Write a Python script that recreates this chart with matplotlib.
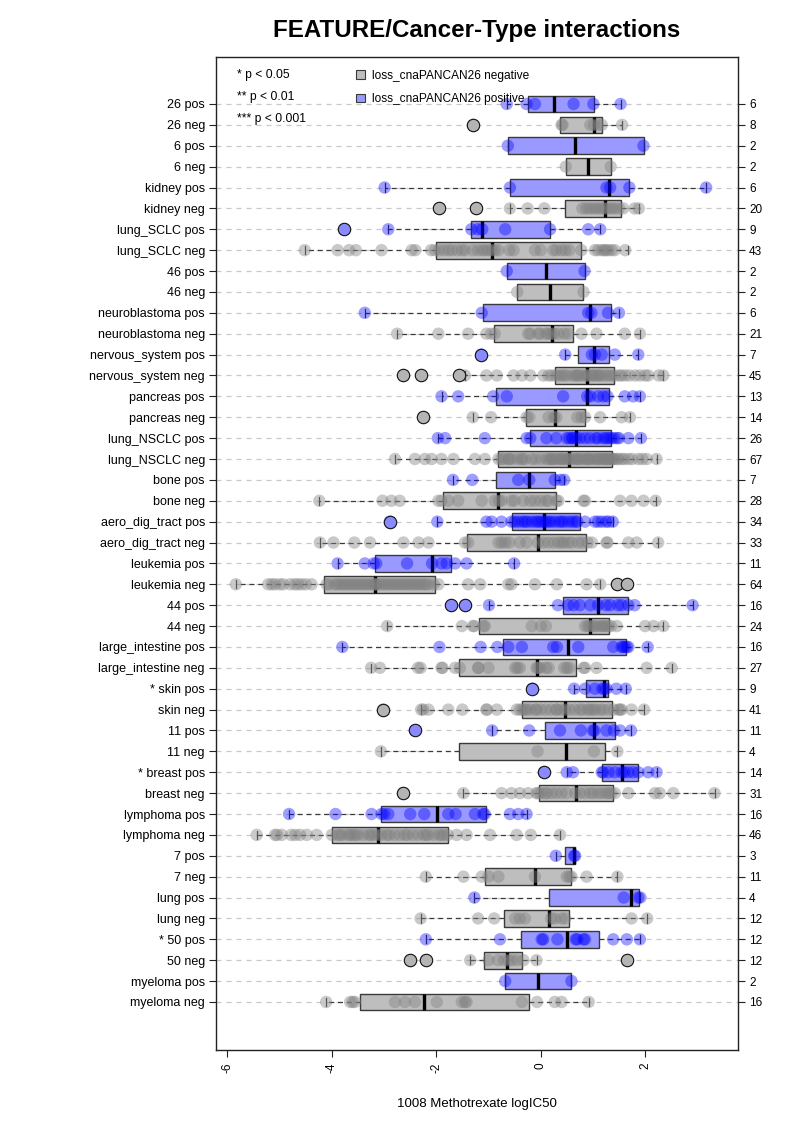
import numpy as np
import matplotlib
matplotlib.use('Agg')
import matplotlib.pyplot as plt
from matplotlib.patches import Patch

plt.rcParams['font.family'] = ['Liberation Sans', 'DejaVu Sans']

# rows, top to bottom
labels = ['26 pos', '26 neg', '6 pos', '6 neg', 'kidney pos', 'kidney neg',
          'lung_SCLC pos', 'lung_SCLC neg', '46 pos', '46 neg',
          'neuroblastoma pos', 'neuroblastoma neg', 'nervous_system pos',
          'nervous_system neg', 'pancreas pos', 'pancreas neg',
          'lung_NSCLC pos', 'lung_NSCLC neg', 'bone pos', 'bone neg',
          'aero_dig_tract pos', 'aero_dig_tract neg', 'leukemia pos',
          'leukemia neg', '44 pos', '44 neg', 'large_intestine pos',
          'large_intestine neg', '* skin pos', 'skin neg', '11 pos', '11 neg',
          '* breast pos', 'breast neg', 'lymphoma pos', 'lymphoma neg',
          '7 pos', '7 neg', 'lung pos', 'lung neg', '* 50 pos', '50 neg',
          'myeloma pos', 'myeloma neg']
counts = [6, 8, 2, 2, 6, 20, 9, 43, 2, 2, 6, 21, 7, 45, 13, 14, 26, 67, 7, 28,
          34, 33, 11, 64, 16, 24, 16, 27, 9, 41, 11, 4, 14, 31, 16, 46, 3, 11,
          4, 12, 12, 12, 2, 16]

# box statistics
q1 = [-0.24, 0.37, -0.63, 0.48, -0.59, 0.47, -1.34, -2.01, -0.65, -0.45,
      -1.11, -0.90, 0.72, 0.27, -0.86, -0.29, -0.20, -0.82, -0.86, -1.87,
      -0.54, -1.42, -3.18, -4.16, 0.43, -1.18, -0.72, -1.57, 0.87, -0.36,
      0.08, -1.56, 1.17, -0.03, -3.05, -4.00, 0.47, -1.07, 0.16, -0.70,
      -0.38, -1.09, -0.68, -3.46]
med = [0.26, 1.02, 0.66, 0.90, 1.31, 1.24, -1.12, -0.93, 0.10, 0.18,
       0.94, 0.21, 1.02, 0.88, 0.89, 0.27, 0.68, 0.54, -0.22, -0.82,
       0.06, -0.05, -2.08, -3.17, 1.10, 0.94, 0.53, -0.08, 1.22, 0.47,
       1.03, 0.48, 1.55, 0.68, -1.99, -3.12, 0.64, -0.11, 1.73, 0.15,
       0.50, -0.65, -0.05, -2.24]
q3 = [1.03, 1.17, 1.97, 1.34, 1.70, 1.53, 0.18, 0.77, 0.84, 0.82,
      1.34, 0.61, 1.30, 1.40, 1.31, 0.84, 1.35, 1.36, 0.27, 0.29,
      0.75, 0.86, -1.72, -2.02, 1.68, 1.31, 1.63, 0.67, 1.28, 1.36,
      1.42, 1.24, 1.87, 1.39, -1.05, -1.77, 0.65, 0.58, 1.89, 0.55,
      1.12, -0.36, 0.59, -0.22]
wlo = [-0.65, 0.37, -0.63, 0.48, -2.99, -0.59, -2.92, -4.52, -0.65, -0.45,
       -3.37, -2.75, 0.47, -1.45, -1.90, -1.30, -1.97, -2.79, -1.68, -4.24,
       -1.98, -4.23, -3.89, -5.84, -0.99, -2.94, -3.80, -3.25, 0.64, -2.29,
       -0.93, -3.06, 0.50, -1.48, -4.82, -5.44, 0.29, -2.20, -1.27, -2.30,
       -2.20, -1.35, -0.68, -4.11]
whi = [1.53, 1.56, 1.97, 1.34, 3.17, 1.88, 1.14, 1.68, 0.84, 0.82,
       1.50, 1.90, 1.87, 2.35, 1.90, 1.71, 1.92, 2.22, 0.45, 2.20,
       1.38, 2.25, -0.51, 1.14, 2.91, 2.35, 2.05, 2.51, 1.63, 1.98,
       1.73, 1.47, 2.22, 3.33, -0.27, 0.37, 0.66, 1.47, 1.91, 2.04,
       1.90, -0.08, 0.59, 0.92]

# individual cell lines per row
points = [
    [-0.65, -0.27, -0.11, 0.63, 1.01, 1.53],
    [-1.30, 0.40, 0.42, 0.95, 1.02, 1.10, 1.17, 1.56],
    [-0.63, 1.97],
    [0.48, 1.34],
    [-2.99, -0.59, 1.26, 1.33, 1.70, 3.17],
    [-1.95, -1.23, -0.59, -0.25, 0.07, 0.80, 0.87, 0.93, 1.00, 1.06, 1.12,
     1.18, 1.24, 1.30, 1.36, 1.42, 1.50, 1.58, 1.80, 1.88],
    [-3.76, -2.92, -1.33, -1.20, -1.12, -0.68, 0.18, 0.91, 1.14],
    [-4.52, -3.89, -3.67, -3.54, -3.05, -2.47, -2.40, -2.10, -2.03, -1.95,
     -1.85, -1.77, -1.70, -1.60, -1.51, -1.45, -1.30, -1.20, -1.12, -1.07,
     -1.00, -0.94, -0.88, -0.81, -0.60, -0.52, -0.11, 0.00, 0.24, 0.30,
     0.40, 0.47, 0.55, 0.78, 1.04, 1.10, 1.17, 1.22, 1.25, 1.30, 1.36,
     1.42, 1.62],
    [-0.65, 0.84],
    [-0.45, 0.82],
    [-3.37, -1.13, 0.91, 0.97, 1.29, 1.50],
    [-2.75, -1.96, -1.39, -1.04, -0.95, -0.88, -0.24, -0.20, -0.05, -0.01,
     0.10, 0.15, 0.20, 0.25, 0.34, 0.45, 0.53, 0.78, 1.07, 1.61, 1.90],
    [-1.14, 0.47, 0.98, 1.04, 1.17, 1.42, 1.87],
    [-2.63, -2.29, -1.56, -1.45, -1.04, -0.84, -0.52, -0.36, -0.20, 0.05,
     0.15, 0.21, 0.28, 0.34, 0.40, 0.45, 0.50, 0.60, 0.66, 0.70, 0.72,
     0.78, 0.85, 0.88, 0.92, 0.98, 1.00, 1.05, 1.10, 1.12, 1.17, 1.24,
     1.30, 1.36, 1.42, 1.50, 1.55, 1.62, 1.70, 1.81, 1.90, 2.00, 2.06,
     2.26, 2.35],
    [-1.90, -1.58, -0.91, -0.65, 0.43, 0.89, 0.95, 1.10, 1.20, 1.28, 1.61,
     1.77, 1.90],
    [-2.25, -1.30, -0.95, -0.27, -0.22, 0.15, 0.25, 0.30, 0.70, 0.78, 0.85,
     1.14, 1.55, 1.71],
    [-1.97, -1.83, -1.07, -0.27, -0.20, 0.11, 0.30, 0.50, 0.55, 0.60, 0.62,
     0.68, 0.75, 0.85, 0.94, 1.05, 1.10, 1.20, 1.25, 1.30, 1.35, 1.40,
     1.46, 1.50, 1.68, 1.92],
    [-2.79, -2.41, -2.22, -2.09, -1.90, -1.67, -1.26, -1.07, -0.81, -0.75,
     -0.70, -0.62, -0.60, -0.55, -0.45, -0.37, -0.35, -0.30, -0.17, -0.10,
     0.00, 0.10, 0.15, 0.20, 0.21, 0.25, 0.30, 0.35, 0.40, 0.40, 0.45,
     0.50, 0.53, 0.55, 0.60, 0.65, 0.70, 0.72, 0.75, 0.80, 0.85, 0.90,
     0.91, 0.95, 1.00, 1.05, 1.10, 1.10, 1.15, 1.20, 1.22, 1.25, 1.30,
     1.30, 1.35, 1.38, 1.40, 1.45, 1.49, 1.55, 1.60, 1.68, 1.75, 1.87,
     1.95, 2.03, 2.22],
    [-1.68, -1.31, -0.43, -0.22, 0.27, 0.38, 0.45],
    [-4.24, -3.03, -2.86, -2.70, -1.96, -1.90, -1.77, -1.58, -1.13, -0.88,
     -0.80, -0.75, -0.56, -0.50, -0.33, -0.20, -0.11, 0.00, 0.10, 0.15,
     0.30, 0.34, 0.82, 0.85, 1.52, 1.74, 1.97, 2.20],
    [-2.89, -1.98, -1.04, -0.94, -0.75, -0.56, -0.50, -0.43, -0.35, -0.30,
     -0.25, -0.17, -0.10, -0.05, 0.00, 0.05, 0.10, 0.15, 0.20, 0.27, 0.35,
     0.40, 0.45, 0.53, 0.60, 0.66, 0.70, 0.85, 1.04, 1.10, 1.17, 1.25,
     1.30, 1.38],
    [-4.23, -3.97, -3.57, -3.27, -2.63, -2.34, -2.15, -1.45, -1.39, -0.81,
     -0.75, -0.68, -0.60, -0.40, -0.27, -0.05, 0.05, 0.15, 0.25, 0.34,
     0.40, 0.45, 0.53, 0.60, 0.72, 0.80, 0.90, 0.98, 1.26, 1.28, 1.68,
     1.84, 2.25],
    [-3.89, -3.37, -3.20, -3.15, -2.56, -2.08, -1.90, -1.80, -1.64, -1.42,
     -0.51],
    [-5.84, -5.22, -5.15, -5.09, -5.00, -4.93, -4.80, -4.71, -4.65, -4.58,
     -4.50, -4.39, -4.10, -4.05, -3.95, -3.90, -3.85, -3.80, -3.75, -3.70,
     -3.65, -3.60, -3.55, -3.50, -3.45, -3.40, -3.35, -3.30, -3.25, -3.20,
     -3.17, -3.15, -3.10, -3.05, -3.00, -2.95, -2.90, -2.85, -2.80, -2.75,
     -2.70, -2.65, -2.60, -2.55, -2.50, -2.45, -2.40, -2.35, -2.30, -2.25,
     -2.20, -2.15, -2.05, -1.96, -1.39, -1.16, -0.62, -0.56, -0.11, 0.31,
     0.88, 1.14, 1.46, 1.65],
    [-1.71, -1.45, -0.99, 0.33, 0.53, 0.63, 0.75, 0.95, 1.10, 1.25, 1.33,
     1.48, 1.55, 1.68, 1.80, 2.91],
    [-2.94, -1.51, -1.30, -1.27, -1.10, -1.07, -0.17, 0.00, 0.10, 0.85,
     0.90, 0.94, 1.00, 1.04, 1.10, 1.17, 1.20, 1.25, 1.30, 1.35, 1.46,
     2.00, 2.16, 2.35],
    [-3.80, -1.94, -1.15, -0.83, -0.62, -0.36, 0.24, 0.31, 0.72, 1.39,
     1.55, 1.58, 1.61, 1.65, 1.68, 2.05],
    [-3.25, -3.08, -2.35, -2.30, -1.90, -1.88, -1.64, -1.55, -1.20, -1.19,
     -1.00, -0.49, -0.45, -0.40, -0.08, -0.05, -0.01, 0.10, 0.15, 0.45,
     0.50, 0.55, 0.82, 0.85, 1.07, 2.03, 2.51],
    [-0.16, 0.64, 0.85, 1.04, 1.18, 1.22, 1.26, 1.45, 1.63],
    [-3.02, -2.29, -2.25, -2.15, -1.77, -1.50, -1.04, -1.03, -0.84, -0.46,
     -0.40, -0.35, -0.30, -0.27, -0.20, -0.10, -0.08, 0.00, 0.10, 0.20,
     0.30, 0.31, 0.40, 0.47, 0.55, 0.65, 0.75, 0.80, 0.90, 0.94, 1.00,
     1.05, 1.14, 1.20, 1.30, 1.40, 1.49, 1.52, 1.55, 1.74, 1.98],
    [-2.41, -0.93, -0.22, 0.37, 0.77, 1.00, 1.03, 1.26, 1.40, 1.52, 1.73],
    [-3.06, -0.06, 1.02, 1.47],
    [0.07, 0.50, 0.62, 1.17, 1.20, 1.30, 1.42, 1.55, 1.60, 1.68, 1.77,
     1.87, 2.06, 2.22],
    [-2.63, -1.48, -0.75, -0.56, -0.40, -0.24, -0.08, -0.05, 0.00, 0.08,
     0.12, 0.21, 0.30, 0.40, 0.50, 0.66, 0.75, 0.85, 0.95, 1.01, 1.10,
     1.17, 1.25, 1.30, 1.35, 1.42, 1.68, 2.19, 2.28, 2.54, 3.33],
    [-4.82, -3.93, -3.24, -3.05, -3.00, -2.92, -2.50, -2.23, -1.77, -1.63,
     -1.26, -1.10, -1.07, -0.59, -0.43, -0.27],
    [-5.44, -5.09, -5.05, -4.96, -4.78, -4.70, -4.61, -4.48, -4.29, -4.00,
     -3.90, -3.85, -3.80, -3.70, -3.65, -3.60, -3.55, -3.50, -3.40, -3.30,
     -3.25, -3.20, -3.12, -3.05, -2.95, -2.90, -2.80, -2.70, -2.60, -2.55,
     -2.45, -2.35, -2.25, -2.20, -2.15, -2.05, -1.95, -1.90, -1.85, -1.78,
     -1.61, -1.42, -0.97, -0.46, -0.19, 0.37],
    [0.29, 0.64, 0.66],
    [-2.20, -1.48, -1.13, -1.00, -0.81, -0.11, 0.50, 0.55, 0.59, 0.88, 1.47],
    [-1.27, 1.59, 1.87, 1.91],
    [-2.30, -1.20, -0.89, -0.49, -0.40, -0.30, 0.20, 0.27, 0.40, 0.47,
     1.74, 2.04],
    [-2.20, -0.78, 0.02, 0.05, 0.32, 0.67, 0.70, 0.82, 0.85, 1.39, 1.65,
     1.90],
    [-2.50, -2.20, -1.35, -1.00, -0.82, -0.70, -0.62, -0.55, -0.45, -0.33,
     -0.08, 1.66],
    [-0.68, 0.59],
    [-4.11, -3.65, -3.60, -3.56, -2.79, -2.60, -2.41, -1.99, -1.51, -1.45,
     -1.42, -0.36, -0.07, 0.27, 0.40, 0.92],
]

n = len(labels)
ypos = np.arange(n, 0, -1)

box_col = {'neg': '#BEBEBE', 'pos': '#9999FF'}
out_col = {'neg': '#B4B4B4', 'pos': '#8A8AFF'}
pt_col = {'neg': (0.5, 0.5, 0.5, 0.42), 'pos': (0.0, 0.0, 1.0, 0.38)}

fig = plt.figure(figsize=(7.93, 11.22), dpi=100)
ax = fig.add_axes([216 / 793, 1 - 1050 / 1122, 522 / 793, 993 / 1122])

for y in ypos:
    ax.axhline(y, color='#C8C8C8', lw=0.9, ls=(0, (4, 4)), zorder=0)

for i, lab in enumerate(labels):
    kind = lab.split()[-1]
    y = ypos[i]
    stats = [dict(q1=q1[i], med=med[i], q3=q3[i], whislo=wlo[i],
                  whishi=whi[i], fliers=[])]
    ax.bxp(stats, positions=[y], widths=0.8, capwidths=0.4,
           orientation='horizontal', patch_artist=True, showfliers=False,
           boxprops=dict(facecolor=box_col[kind], edgecolor='#3A3A3A', lw=1),
           whiskerprops=dict(color='#3A3A3A', lw=0.9, ls=(0, (4, 3))),
           capprops=dict(color='#3A3A3A', lw=0.9),
           medianprops=dict(color='black', lw=2.4, solid_capstyle='butt'),
           zorder=2)
    pts = np.array(points[i])
    ax.scatter(pts, np.full(len(pts), y), s=80, color=pt_col[kind],
               edgecolor='none', zorder=3)
    out = pts[(pts < wlo[i] - 1e-9) | (pts > whi[i] + 1e-9)]
    ax.scatter(out, np.full(len(out), y), s=80, facecolor=out_col[kind],
               edgecolor='#111111', lw=0.8, zorder=4)

ax.set_xlim(-6.22, 3.78)
ax.set_ylim(-1.3, n + 2.25)
ax.set_yticks(ypos)
ax.set_yticklabels(labels, fontsize=9)
ax.set_xticks([-6, -4, -2, 0, 2])
ax.set_xticklabels(['-6', '-4', '-2', '0', '2'], rotation=90, fontsize=8.5)
ax.tick_params(axis='both', length=5, width=0.8, color='#222222')
ax.tick_params(axis='x', pad=4)
ax.tick_params(axis='y', pad=3)
for sp in ax.spines.values():
    sp.set_linewidth(1.0)
    sp.set_color('#222222')

ax2 = ax.twinx()
ax2.set_ylim(ax.get_ylim())
ax2.set_yticks(ypos)
ax2.set_yticklabels([str(c) for c in counts], fontsize=8.5)
ax2.tick_params(axis='y', length=5, width=0.8, color='#222222', pad=3)
for sp in ax2.spines.values():
    sp.set_visible(False)

ax.set_xlabel('1008 Methotrexate logIC50', fontsize=9.5, labelpad=18)

# p-value key and colour key
for j, t in enumerate(['* p < 0.05', '** p < 0.01', '*** p < 0.001']):
    ax.text(0.040, 0.982 - j * 0.0222, t, transform=ax.transAxes,
            fontsize=8.7, va='center', ha='left', zorder=6)
handles = [Patch(facecolor=box_col['neg'], edgecolor='#3A3A3A', lw=0.8,
                 label='loss_cnaPANCAN26 negative'),
           Patch(facecolor=box_col['pos'], edgecolor='#3A3A3A', lw=0.8,
                 label='loss_cnaPANCAN26 positive')]
leg = ax.legend(handles=handles, loc='upper left',
                bbox_to_anchor=(0.259, 0.992), frameon=False, fontsize=8.6,
                handlelength=0.75, handleheight=0.75, handletextpad=0.6,
                labelspacing=0.95, borderaxespad=0)
leg.set_zorder(6)

fig.text(476.5 / 793, 1 - 31 / 1122, 'FEATURE/Cancer-Type interactions',
         ha='center', va='center', fontsize=17.4, fontweight='bold')

fig.savefig('out.png', dpi=100)
